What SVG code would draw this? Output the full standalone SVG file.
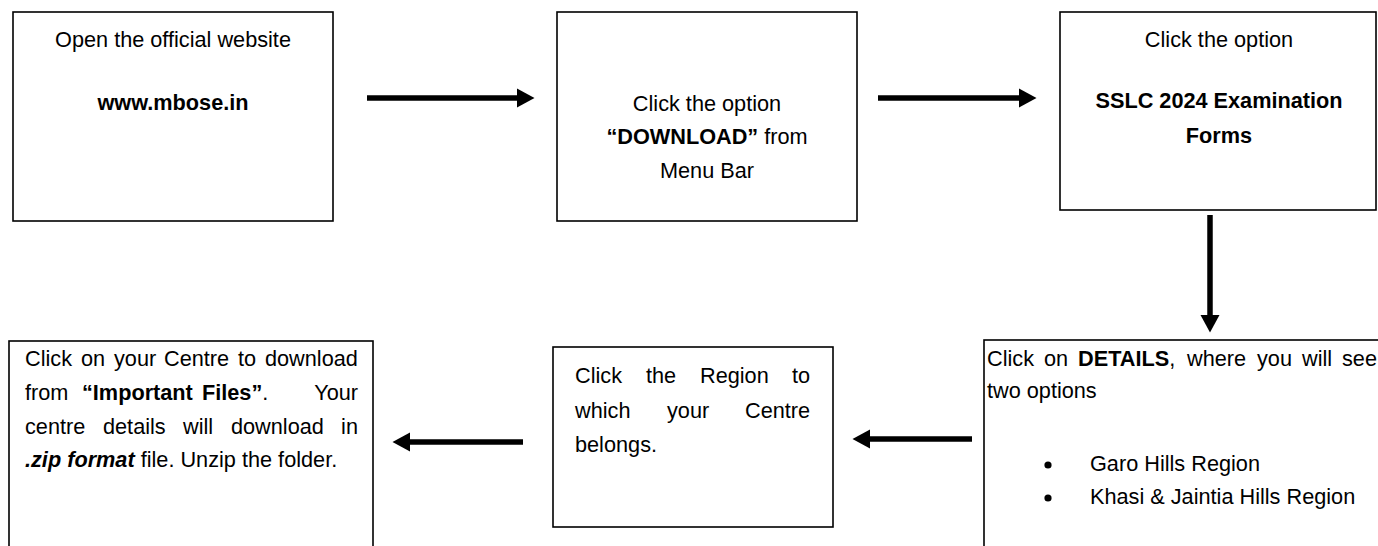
<svg xmlns="http://www.w3.org/2000/svg" width="1378" height="546" viewBox="0 0 1378 546">
<style>
  .box { fill: #ffffff; stroke: #000000; stroke-width: 1.6; }
  text { font-family: "Liberation Sans", Arial, sans-serif; font-size: 21.7px; fill: #000000; }
  .c { text-anchor: middle; }
  .e { text-anchor: end; }
  .b { font-weight: bold; }
  .bi { font-weight: bold; font-style: italic; }
  .conn { stroke: #000000; stroke-width: 5.5; fill: none; marker-end: url(#head); }
</style>
<defs>
  <marker id="head" markerUnits="userSpaceOnUse" markerWidth="18" markerHeight="20" refX="0" refY="10" orient="auto">
    <path d="M0,0.5 L17.5,10 L0,19.5 Z" fill="#000000"/>
  </marker>
</defs>
<rect width="1378" height="546" fill="#ffffff"/>

<g id="connectors">
  <line class="conn" x1="367" y1="98" x2="517" y2="98"/>
  <line class="conn" x1="878" y1="98" x2="1019" y2="98"/>
  <line class="conn" x1="1210" y1="215" x2="1210" y2="315"/>
  <line class="conn" x1="972" y1="439" x2="870" y2="439"/>
  <line class="conn" x1="523" y1="442" x2="410" y2="442"/>
</g>

<g id="node1">
  <rect class="box" x="13" y="12" width="320" height="209"/>
  <text class="c" x="173" y="47">Open the official website</text>
  <text class="c b" x="173" y="110">www.mbose.in</text>
</g>

<g id="node2">
  <rect class="box" x="557" y="12" width="300" height="209"/>
  <text class="c" x="707" y="111">Click the option</text>
  <text class="c" x="707" y="144"><tspan class="b">“DOWNLOAD”</tspan> from</text>
  <text class="c" x="707" y="178">Menu Bar</text>
</g>

<g id="node3">
  <rect class="box" x="1060" y="12" width="316" height="198"/>
  <text class="c" x="1219" y="47">Click the option</text>
  <text class="c b" x="1219" y="108">SSLC 2024 Examination</text>
  <text class="c b" x="1219" y="143">Forms</text>
</g>

<g id="node4">
  <rect class="box" x="984" y="340" width="400" height="220"/>
  <text y="366"><tspan x="987">Click</tspan><tspan x="1044">on</tspan><tspan x="1078" class="b">DETAILS</tspan><tspan>,</tspan><tspan x="1187">where</tspan><tspan x="1257">you</tspan><tspan x="1302">will</tspan><tspan x="1342">see</tspan></text>
  <text x="987" y="398">two options</text>
  <circle cx="1048" cy="465" r="3.6" fill="#000000"/>
  <circle cx="1048" cy="498" r="3.6" fill="#000000"/>
  <text x="1090" y="471">Garo Hills Region</text>
  <text x="1090" y="504">Khasi &amp; Jaintia Hills Region</text>
</g>

<g id="node5">
  <rect class="box" x="553" y="347" width="280" height="180"/>
  <text y="383"><tspan x="575">Click</tspan><tspan x="646">the</tspan><tspan x="700">Region</tspan><tspan x="792">to</tspan></text>
  <text y="418"><tspan x="575">which</tspan><tspan x="667">your</tspan><tspan x="745">Centre</tspan></text>
  <text x="575" y="452">belongs.</text>
</g>

<g id="node6">
  <rect class="box" x="9" y="341" width="364" height="220"/>
  <text y="366"><tspan x="25">Click</tspan><tspan x="81">on</tspan><tspan x="114">your</tspan><tspan x="164">Centre</tspan><tspan x="238">to</tspan><tspan x="265">download</tspan></text>
  <text y="400"><tspan x="25">from</tspan><tspan x="82" class="b">“Important</tspan><tspan x="202" class="b">Files”</tspan><tspan>.</tspan></text>
  <text class="e" x="358" y="400">Your</text>
  <text y="434"><tspan x="25">centre</tspan><tspan x="103">details</tspan><tspan x="183">will</tspan><tspan x="231">download</tspan></text>
  <text class="e" x="358" y="434">in</text>
  <text x="25" y="467"><tspan class="bi">.zip format</tspan> file. Unzip the folder.</text>
</g>
</svg>
